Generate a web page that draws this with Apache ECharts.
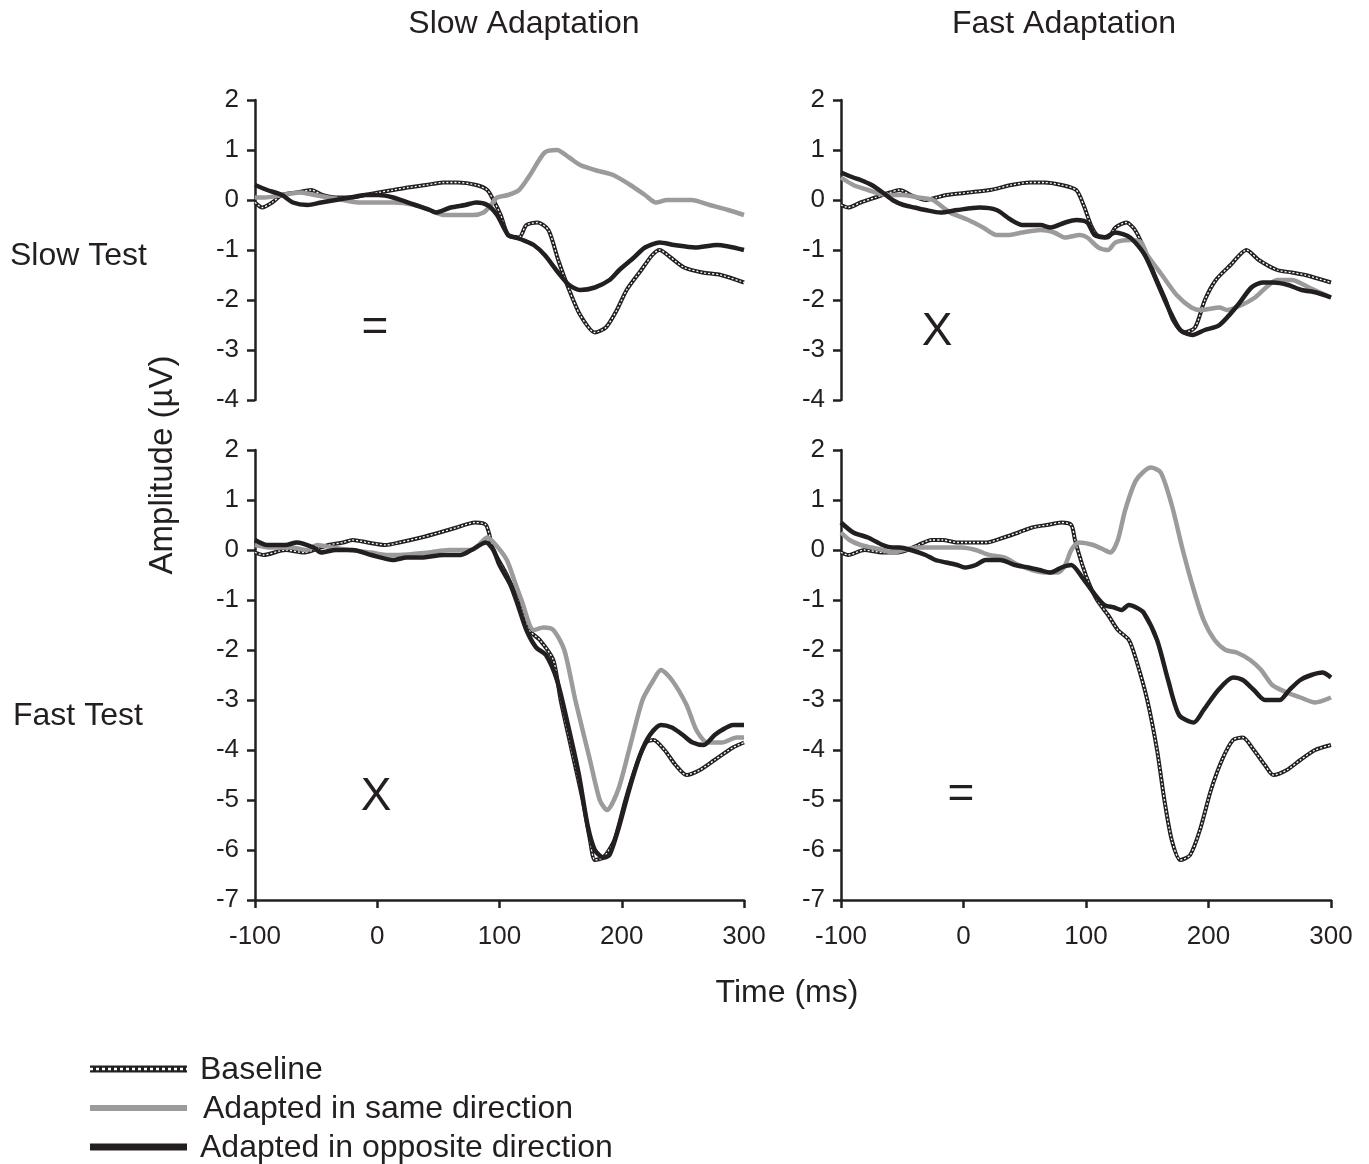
<!DOCTYPE html>
<html>
<head>
<meta charset="utf-8">
<script src="https://cdn.jsdelivr.net/npm/echarts@6/dist/echarts.min.js"></script>
<style>
  html, body { margin: 0; padding: 0; background: #fff; }
  #chart { width: 1369px; height: 1164px; }
</style>
</head>
<body>
<div id="chart"></div>
<script>
// time in ms, amplitude in µV
const xTicks = [-100, 0, 100, 200, 300]
const adaptLabels = ['Slow Adaptation', 'Fast Adaptation']
const testLabels = ['Slow Test', 'Fast Test']
const legendNames = ['Baseline', 'Adapted in same direction', 'Adapted in opposite direction']
const marks = ['=', 'X', 'X', '=']

// slow test / slow adaptation
const slowSlowBase = [[-100,-0.05],[-94,-0.15],[-86,-0.05],[-78,0.1],[-66,0.15],[-54,0.2],[-45,0.1],[-34,0.05],[-20,0.05],[-10,0.1],[1,0.15],[13,0.2],[25,0.25],[40,0.3],[54,0.35],[66,0.35],[81,0.3],[90,0.2],[95,0],[101,-0.3],[107,-0.7],[116,-0.75],[122,-0.5],[131,-0.45],[140,-0.6],[148,-1.2],[157,-1.8],[166,-2.3],[178,-2.65],[187,-2.55],[196,-2.2],[204,-1.8],[216,-1.4],[225,-1.1],[231,-1.0],[240,-1.15],[251,-1.35],[266,-1.45],[281,-1.5],[300,-1.65]]
const slowSlowSame = [[-100,0.05],[-92,0.05],[-78,0.1],[-63,0.15],[-51,0.1],[-40,0.05],[-28,0],[-16,-0.05],[1,-0.05],[13,-0.05],[31,-0.1],[43,-0.2],[54,-0.3],[66,-0.3],[78,-0.3],[87,-0.25],[93,-0.1],[98,0.05],[107,0.1],[116,0.2],[125,0.5],[137,0.95],[147,1.0],[157,0.85],[166,0.7],[178,0.6],[193,0.5],[207,0.3],[219,0.1],[228,-0.05],[237,0],[248,0],[257,0],[272,-0.1],[287,-0.2],[300,-0.3]]
const slowSlowOpp = [[-100,0.3],[-90,0.2],[-78,0.1],[-69,-0.05],[-57,-0.1],[-46,-0.05],[-34,0],[-22,0.05],[-10,0.1],[1,0.1],[13,0.05],[31,-0.1],[43,-0.2],[48,-0.25],[60,-0.15],[72,-0.1],[81,-0.05],[90,-0.1],[98,-0.3],[107,-0.7],[113,-0.75],[119,-0.8],[128,-0.9],[137,-1.1],[148,-1.45],[157,-1.7],[166,-1.8],[178,-1.75],[190,-1.6],[198,-1.4],[210,-1.15],[219,-0.95],[231,-0.85],[243,-0.9],[260,-0.95],[278,-0.9],[300,-1.0]]

// slow test / fast adaptation
const slowFastBase = [[-100,-0.1],[-94,-0.15],[-84,-0.05],[-72,0.05],[-60,0.15],[-52,0.2],[-43,0.1],[-31,0],[-22,0.05],[-14,0.1],[4,0.15],[22,0.2],[39,0.3],[54,0.35],[66,0.35],[80,0.3],[92,0.2],[98,-0.1],[104,-0.5],[109,-0.7],[118,-0.75],[124,-0.55],[133,-0.45],[140,-0.6],[148,-1.0],[156,-1.5],[165,-2.0],[171,-2.4],[180,-2.65],[189,-2.55],[197,-2.0],[206,-1.6],[218,-1.3],[231,-1.0],[241,-1.2],[256,-1.4],[268,-1.45],[279,-1.5],[300,-1.65]]
const slowFastSame = [[-100,0.45],[-90,0.3],[-78,0.2],[-63,0.1],[-49,0.1],[-37,0.05],[-25,0],[-11,-0.25],[4,-0.4],[16,-0.55],[27,-0.7],[36,-0.7],[48,-0.65],[63,-0.6],[74,-0.65],[83,-0.75],[95,-0.7],[101,-0.75],[110,-0.95],[118,-1.0],[124,-0.85],[136,-0.8],[145,-0.85],[150,-1.1],[162,-1.5],[174,-1.9],[186,-2.15],[194,-2.2],[209,-2.15],[215,-2.2],[227,-2.1],[238,-1.95],[247,-1.75],[256,-1.6],[268,-1.6],[282,-1.75],[291,-1.85],[300,-1.95]]
const slowFastOpp = [[-100,0.55],[-90,0.45],[-84,0.4],[-75,0.3],[-66,0.15],[-58,0],[-49,-0.1],[-40,-0.15],[-31,-0.2],[-19,-0.25],[-5,-0.2],[13,-0.15],[27,-0.2],[39,-0.4],[48,-0.5],[63,-0.5],[71,-0.55],[83,-0.45],[92,-0.4],[101,-0.45],[107,-0.7],[115,-0.75],[124,-0.65],[136,-0.75],[148,-1.1],[159,-1.7],[168,-2.2],[177,-2.6],[187,-2.7],[197,-2.6],[209,-2.5],[224,-2.1],[235,-1.75],[244,-1.65],[253,-1.65],[265,-1.7],[276,-1.8],[288,-1.85],[300,-1.95]]

// fast test / slow adaptation
const fastSlowBase = [[-100,-0.05],[-93,-0.1],[-75,0],[-60,-0.05],[-52,0],[-40,0.1],[-28,0.15],[-20,0.2],[-8,0.15],[7,0.1],[18,0.15],[36,0.25],[51,0.35],[65,0.45],[80,0.55],[89,0.5],[95,0],[106,-0.5],[115,-1.0],[124,-1.6],[133,-1.8],[144,-2.2],[150,-3.0],[159,-4.0],[168,-5.0],[174,-5.8],[178,-6.2],[185,-6.15],[194,-5.8],[203,-5.0],[212,-4.3],[220,-3.85],[226,-3.8],[235,-4.0],[244,-4.3],[253,-4.5],[264,-4.4],[276,-4.2],[291,-3.95],[300,-3.85]]
const fastSlowSame = [[-100,0.1],[-87,0.05],[-70,0.05],[-58,0],[-49,0.1],[-37,0.05],[-23,0],[-5,-0.05],[7,-0.1],[18,-0.1],[42,-0.05],[59,0],[77,0],[83,0.1],[90,0.25],[97,0.1],[106,-0.2],[112,-0.6],[118,-1.0],[128,-1.6],[136,-1.55],[144,-1.6],[153,-2.0],[162,-3.0],[174,-4.2],[182,-5.0],[188,-5.2],[197,-4.8],[206,-4.0],[217,-3.0],[226,-2.6],[232,-2.4],[241,-2.6],[253,-3.1],[261,-3.6],[270,-3.85],[282,-3.85],[294,-3.75],[300,-3.75]]
const fastSlowOpp = [[-100,0.2],[-90,0.1],[-75,0.1],[-66,0.15],[-52,0.05],[-46,-0.05],[-34,0],[-20,0],[-5,-0.1],[13,-0.2],[24,-0.15],[36,-0.15],[54,-0.1],[68,-0.1],[77,0],[89,0.15],[95,0],[100,-0.3],[109,-0.7],[115,-1.1],[122,-1.6],[130,-1.95],[138,-2.1],[147,-2.6],[156,-3.5],[165,-4.5],[172,-5.5],[178,-6.0],[185,-6.15],[190,-6.1],[197,-5.6],[206,-4.8],[215,-4.1],[223,-3.7],[232,-3.5],[241,-3.55],[250,-3.7],[258,-3.85],[267,-3.9],[276,-3.7],[282,-3.6],[291,-3.5],[300,-3.5]]

// fast test / fast adaptation
const fastFastBase = [[-100,-0.05],[-94,-0.1],[-81,0],[-66,-0.05],[-55,-0.05],[-46,0],[-37,0.1],[-26,0.2],[-17,0.2],[-5,0.15],[7,0.15],[19,0.15],[33,0.25],[45,0.35],[56,0.45],[68,0.5],[80,0.55],[88,0.5],[91,0.2],[97,-0.3],[103,-0.7],[109,-1.0],[118,-1.3],[126,-1.6],[135,-1.8],[141,-2.2],[150,-3.0],[158,-4.0],[164,-5.0],[170,-5.8],[177,-6.2],[185,-6.1],[193,-5.6],[202,-4.8],[211,-4.2],[220,-3.8],[228,-3.75],[237,-4.0],[246,-4.3],[253,-4.5],[264,-4.4],[275,-4.2],[287,-4.0],[300,-3.9]]
const fastFastSame = [[-100,0.35],[-93,0.2],[-84,0.1],[-75,0.05],[-66,0],[-58,-0.05],[-49,0],[-37,0.05],[-14,0.05],[-2,0.05],[10,0],[21,-0.1],[33,-0.15],[45,-0.3],[56,-0.4],[68,-0.45],[77,-0.45],[83,-0.3],[88,0],[94,0.15],[106,0.1],[115,0],[120,-0.05],[126,0.2],[132,0.8],[141,1.4],[153,1.65],[161,1.55],[170,0.9],[179,0],[188,-0.8],[196,-1.4],[205,-1.8],[214,-2.0],[223,-2.05],[234,-2.2],[243,-2.4],[252,-2.7],[264,-2.85],[275,-2.95],[287,-3.05],[300,-2.95]]
const fastFastOpp = [[-100,0.55],[-90,0.35],[-78,0.25],[-66,0.1],[-58,0.05],[-52,0.05],[-43,0],[-31,-0.1],[-23,-0.2],[-14,-0.25],[-5,-0.3],[1,-0.35],[10,-0.3],[18,-0.2],[30,-0.2],[42,-0.3],[53,-0.35],[62,-0.4],[71,-0.45],[80,-0.35],[88,-0.3],[97,-0.55],[106,-0.85],[115,-1.1],[123,-1.15],[129,-1.2],[135,-1.1],[141,-1.15],[147,-1.25],[158,-1.8],[167,-2.6],[176,-3.3],[188,-3.45],[196,-3.2],[208,-2.8],[220,-2.55],[228,-2.6],[237,-2.8],[246,-3.0],[258,-3.0],[266,-2.8],[275,-2.6],[284,-2.5],[293,-2.45],[300,-2.55]]

const panels = [
  { base: slowSlowBase, same: slowSlowSame, opp: slowSlowOpp, yMin: -4 },
  { base: slowFastBase, same: slowFastSame, opp: slowFastOpp, yMin: -4 },
  { base: fastSlowBase, same: fastSlowSame, opp: fastSlowOpp, yMin: -7 },
  { base: fastFastBase, same: fastFastSame, opp: fastFastOpp, yMin: -7 }
]

const INK = '#231f20'
const GREY = '#9b9b9b'
const FONT = 'Liberation Sans, Arial, Helvetica, sans-serif'

const gridPos = [
  { left: 255, top: 100, width: 489, height: 300 },
  { left: 841, top: 100, width: 490, height: 300 },
  { left: 255, top: 450, width: 489, height: 450 },
  { left: 841, top: 450, width: 490, height: 450 }
]

const axisLine = { show: true, onZero: false, lineStyle: { color: INK, width: 2.5 } }
const axisTick = { show: true, inside: false, length: 8, lineStyle: { color: INK, width: 2.5 } }
const axisLabel = { color: INK, fontSize: 26, fontFamily: FONT }

const xAxis = panels.map((p, i) => ({
  type: 'value', gridIndex: i, min: -100, max: 300, interval: 100,
  show: i >= 2,
  axisLine, axisTick, splitLine: { show: false },
  axisLabel: { ...axisLabel, margin: 24 }
}))
const yAxis = panels.map((p, i) => ({
  type: 'value', gridIndex: i, min: p.yMin, max: 2, interval: 1,
  axisLine, axisTick, splitLine: { show: false },
  axisLabel: { ...axisLabel, margin: 16 }
}))

const series = []
panels.forEach((p, i) => {
  const common = { type: 'line', xAxisIndex: i, yAxisIndex: i, showSymbol: false, symbol: 'none', smooth: 0.25, animation: false }
  series.push({ ...common, name: legendNames[0], data: p.base, lineStyle: { color: INK, width: 4 } })
  series.push({ ...common, name: legendNames[0] + ' dots', data: p.base, lineStyle: { color: '#fff', width: 1.3, type: [2, 2] } })
  series.push({ ...common, name: legendNames[1], data: p.same, lineStyle: { color: GREY, width: 4.5 } })
  series.push({ ...common, name: legendNames[2], data: p.opp, lineStyle: { color: INK, width: 4.5 } })
})

const bigText = (x, y, text, align, size, extra) => ({
  type: 'text', x, y,
  style: { text, fill: INK, font: `${size}px ${FONT}`, textAlign: align, textVerticalAlign: 'middle' },
  ...(extra || {})
})

const markPos = [[375, 328], [937, 332], [376, 797], [961, 795]]
const legendY = [1069, 1108, 1147]

const graphic = [
  bigText(524, 24, adaptLabels[0], 'center', 32),
  bigText(1064, 24, adaptLabels[1], 'center', 32),
  bigText(10, 256, testLabels[0], 'left', 32),
  bigText(13, 716, testLabels[1], 'left', 32),
  bigText(163, 465, 'Amplitude (µV)', 'center', 33, { rotation: Math.PI / 2 }),
  bigText(787, 993, 'Time (ms)', 'center', 32),
  ...marks.map((m, i) => bigText(markPos[i][0], markPos[i][1], m, 'center', 46)),
  // legend
  { type: 'line', shape: { x1: 90, y1: legendY[0], x2: 187, y2: legendY[0] }, style: { stroke: INK, lineWidth: 7 } },
  { type: 'line', shape: { x1: 90, y1: legendY[0], x2: 187, y2: legendY[0] }, style: { stroke: '#fff', lineWidth: 2.5, lineDash: [3, 3] } },
  { type: 'line', shape: { x1: 90, y1: legendY[1], x2: 187, y2: legendY[1] }, style: { stroke: GREY, lineWidth: 6 } },
  { type: 'line', shape: { x1: 90, y1: legendY[2], x2: 187, y2: legendY[2] }, style: { stroke: INK, lineWidth: 7 } },
  bigText(200, legendY[0] + 1, legendNames[0], 'left', 32),
  bigText(203, legendY[1] + 1, legendNames[1], 'left', 32),
  bigText(200, legendY[2] + 1, legendNames[2], 'left', 32)
]

const chart = echarts.init(document.getElementById('chart'))
chart.setOption({
  backgroundColor: '#fff',
  animation: false,
  grid: gridPos,
  xAxis,
  yAxis,
  series,
  graphic
})
</script>
</body>
</html>
